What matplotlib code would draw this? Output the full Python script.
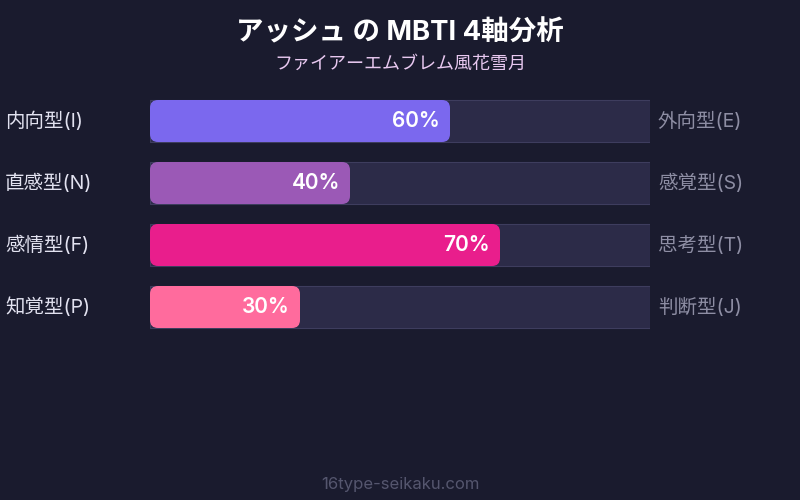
import matplotlib.pyplot as plt
from matplotlib.patches import FancyBboxPatch

# data
left_labels = ['内向型(I)', '直感型(N)', '感情型(F)', '知覚型(P)']
right_labels = ['外向型(E)', '感覚型(S)', '思考型(T)', '判断型(J)']
values = [60, 40, 70, 30]
colors = ['#7b68ee', '#9b59b6', '#e91e8c', '#ff6b9d']

bg = '#1a1b2e'
plt.rcParams['font.family'] = ['Inter', 'Noto Sans CJK JP', 'DejaVu Sans']

fig = plt.figure(figsize=(8, 5), dpi=100, facecolor=bg)

fig.text(0.5, 1 - 33 / 500, 'アッシュ の MBTI 4軸分析', ha='center', va='center',
         fontsize=19.8, fontweight='bold', color='white')
fig.text(0.5, 1 - 64 / 500, 'ファイアーエムブレム風花雪月', ha='center', va='center',
         fontsize=13, color='#e8c8f0')
fig.text(0.5, 1 - 484 / 500, '16type-seikaku.com', ha='center', va='center',
         fontsize=12, color='#55566e')

# bar area: 150..650 px wide, rows of 62 px starting at y=90
ax = fig.add_axes([150 / 800, (500 - 338) / 500, 500 / 800, 248 / 500])
ax.set_facecolor(bg)
ax.set_xlim(0, 100)
ax.set_ylim(3.5, -0.5)
ax.axis('off')

h = 42 / 62
for i, (v, c) in enumerate(zip(values, colors)):
    ax.barh(i, 100, height=h, color='#2c2b48', edgecolor='#3e3d5e', linewidth=0.8)
    # rounded filled bar (x units: 1 = 5 px, y units: 1 = 62 px)
    r = 1.6
    ax.add_patch(FancyBboxPatch((0, i - h / 2), v, h,
                                boxstyle=f'round,pad=0,rounding_size={r}',
                                mutation_aspect=(8 / 62) / r,
                                facecolor=c, edgecolor='none', zorder=3))
    ax.text(v - 2, i, f'{v}%', ha='right', va='center', fontsize=15,
            fontweight='semibold', color='white', zorder=4)
    ax.text(-29, i, left_labels[i], ha='left', va='center', fontsize=14,
            color='#e2e2f0', clip_on=False)
    ax.text(101.6, i, right_labels[i], ha='left', va='center', fontsize=14,
            color='#8e8ea4', clip_on=False)

fig.savefig('out.png', dpi=100, facecolor=bg)
